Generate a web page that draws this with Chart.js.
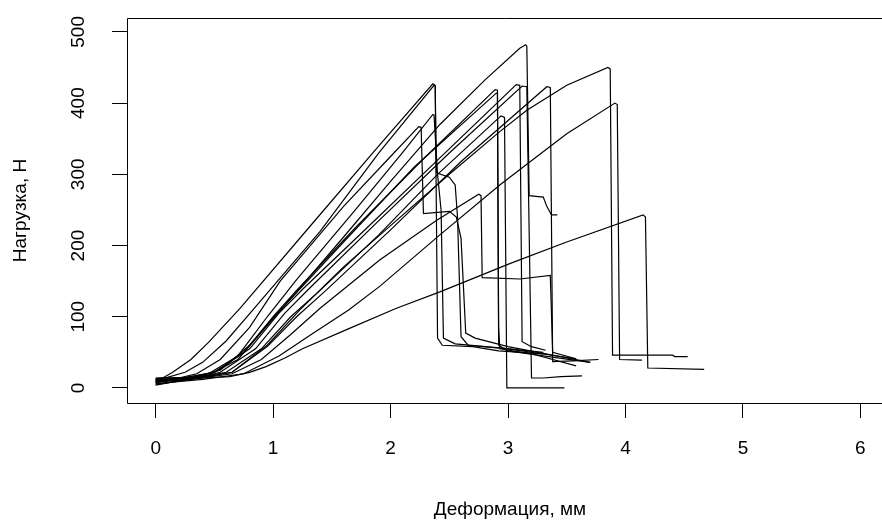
<!DOCTYPE html>
<html>
<head>
<meta charset="utf-8">
<script src="https://cdn.jsdelivr.net/npm/chart.js@4.4.0/dist/chart.umd.min.js"></script>
<style>
    html, body { margin: 0; padding: 0; background: #fff; overflow: hidden; }
    #wrap { width: 882px; height: 524px; }
</style>
</head>
<body>
<div id="wrap"><canvas id="loadChart" width="882" height="524"></canvas></div>
<script>
// Tick labels
const xTicks = [0, 1, 2, 3, 4, 5, 6];
const yTicks = [0, 100, 200, 300, 400, 500];
const xTitle = 'Деформация, мм';
const yTitle = 'Нагрузка, Н';

// Specimens: [deformation mm, load N]
const s01 = [[0,10],[0.06,14],[0.145,22],[0.3,40],[0.45,64],[0.72,112],[1.34,232],[1.9,340],[2.36,427],[2.38,425],[2.40,70],[2.44,60],[2.70,58],[2.92,52],[3.30,48]];
const s02 = [[0,13],[0.1,15],[0.25,22],[0.4,36],[0.6,66],[0.85,114],[1.4,220],[1.9,330],[2.37,425],[2.38,424],[2.39,302],[2.50,296],[2.55,285],[2.57,240],[2.60,72],[2.66,60],[3.0,55],[3.58,41]];
const s03 = [[0,7],[0.15,12],[0.35,20],[0.55,40],[0.8,85],[1.06,150],[1.6,255],[2.0,325],[2.24,367],[2.26,366],[2.28,245],[2.50,248],[2.56,240],[2.60,210],[2.64,77],[2.72,70],[3.0,58],[3.70,36]];
const s04 = [[0,4],[0.2,10],[0.45,20],[0.7,45],[0.95,100],[1.2,152],[1.7,250],[2.1,330],[2.36,384],[2.37,383],[2.40,300],[2.43,250],[2.45,70],[2.55,62],[2.95,56],[3.30,50]];
const s05 = [[0,8],[0.35,13],[0.65,20],[0.9,40],[1.15,75],[1.4,112],[1.91,180],[2.39,235],[2.75,272],[2.77,270],[2.78,155],[3.1,153],[3.36,158],[3.38,50],[3.58,41]];
const s06 = [[0,11],[0.25,14],[0.5,22],[0.75,50],[1.0,100],[1.2,137],[1.7,225],[2.3,325],[2.89,419],[2.91,418],[2.92,85],[2.93,55],[3.2,48],[3.58,31]];
const s07 = [[0,14],[0.25,15],[0.5,22],[0.8,55],[1.05,105],[1.26,140],[1.8,225],[2.4,320],[3.07,426],[3.10,425],[3.12,65],[3.20,58],[3.32,53]];
const s08 = [[0,5],[0.3,12],[0.55,22],[0.85,55],[1.1,105],[1.31,140],[1.9,235],[2.5,330],[3.12,424],[3.16,423],[3.20,14],[3.3,14],[3.45,16],[3.63,17]];
const s09 = [[0,9],[0.3,13],[0.6,22],[0.9,55],[1.15,100],[1.40,137],[1.9,215],[2.4,300],[2.94,382],[2.97,380],[2.99,0],[3.25,0],[3.48,0]];
const s10 = [[0,12],[0.35,14],[0.65,22],[0.95,58],[1.2,100],[1.45,137],[2.0,222],[2.6,318],[3.33,423],[3.36,422],[3.38,37],[3.55,38],[3.77,40]];
const s11 = [[0,12],[0.3,14],[0.55,25],[0.8,60],[1.0,98],[1.2,135],[1.6,212],[2.0,290],[2.42,370],[2.8,432],[3.10,477],[3.15,482],[3.16,480],[3.18,270],[3.30,268],[3.33,255],[3.37,243],[3.42,243]];
const s12 = [[0,9],[0.35,13],[0.65,22],[0.95,60],[1.23,110],[1.6,170],[2.0,228],[2.5,300],[2.93,360],[3.16,390],[3.5,425],[3.85,450],[3.87,448],[3.89,46],[4.40,46],[4.42,44],[4.53,44]];
const s13 = [[0,6],[0.4,12],[0.75,20],[1.05,45],[1.35,78],[1.64,109],[1.91,143],[2.42,215],[2.93,285],[3.16,314],[3.5,357],[3.91,400],[3.93,398],[3.95,40],[4.14,39]];
const s14 = [[0,10],[0.3,13],[0.63,16],[0.8,22],[0.94,30],[1.1,42],[1.25,55],[1.64,83],[2.05,112],[2.42,135],[3.02,175],[3.5,205],[4.15,243],[4.17,240],[4.19,28],[4.67,26]];
const s15 = [[0,8],[0.2,12],[0.45,18],[0.7,40],[0.95,88],[1.15,125],[1.6,205],[2.2,310],[2.90,414],[2.91,413],[2.92,60],[3.0,52],[3.3,45],[3.70,36]];

const specimens = [s01, s02, s03, s04, s05, s06, s07, s08, s09, s10, s11, s12, s13, s14, s15];

// Draws the R-like box and the axis texts
const frameLabels = {
    id: 'frameLabels',
    afterDraw(chart) {
        const ctx = chart.ctx;
        const area = chart.chartArea;
        const xs = chart.scales.x;
        const ys = chart.scales.y;
        ctx.save();
        ctx.strokeStyle = '#000';
        ctx.lineWidth = 1;
        ctx.beginPath();
        ctx.moveTo(chart.width + 20, area.top + 0.5);
        ctx.lineTo(area.left + 0.5, area.top + 0.5);
        ctx.lineTo(area.left + 0.5, area.bottom + 0.5);
        ctx.lineTo(chart.width + 20, area.bottom + 0.5);
        ctx.stroke();

        ctx.fillStyle = '#000';
        ctx.font = '19px "Liberation Sans", Arial, sans-serif';
        ctx.textAlign = 'center';
        ctx.textBaseline = 'middle';
        xTicks.forEach(v => ctx.fillText(String(v), xs.getPixelForValue(v), 449));
        yTicks.forEach(v => {
            ctx.save();
            ctx.translate(79, ys.getPixelForValue(v));
            ctx.rotate(-Math.PI / 2);
            ctx.fillText(String(v), 0, 0);
            ctx.restore();
        });
        ctx.fillText(xTitle, 510, 510);
        ctx.save();
        ctx.translate(21, (area.top + area.bottom) / 2);
        ctx.rotate(-Math.PI / 2);
        ctx.fillText(yTitle, 0, 0);
        ctx.restore();
        ctx.restore();
    }
};

const chartData = {
    datasets: specimens.map(pts => ({
        data: pts.map(p => ({ x: p[0], y: p[1] })),
        borderColor: '#000',
        borderWidth: 1.2,
        pointRadius: 0,
        showLine: true,
        fill: false,
        tension: 0
    }))
};

const chartConfig = {
    type: 'scatter',
    data: chartData,
    options: {
        responsive: false,
        animation: false,
        layout: { padding: { left: 0, top: 18, right: 0, bottom: 0 } },
        plugins: {
            legend: { display: false },
            tooltip: { enabled: false }
        },
        scales: {
            x: {
                type: 'linear',
                min: -0.244,
                max: 6.184,
                afterBuildTicks: scale => { scale.ticks = xTicks.map(v => ({ value: v })); },
                afterFit: scale => { scale.height = 121; },
                grid: { drawOnChartArea: false, drawTicks: true, tickLength: 15, color: '#000', tickColor: '#000' },
                border: { display: false },
                ticks: { display: false }
            },
            y: {
                type: 'linear',
                min: -21.1,
                max: 519.5,
                afterBuildTicks: scale => { scale.ticks = yTicks.map(v => ({ value: v })); },
                afterFit: scale => { scale.width = 127; },
                grid: { drawOnChartArea: false, drawTicks: true, tickLength: 15, color: '#000', tickColor: '#000' },
                border: { display: false },
                ticks: { display: false }
            }
        }
    },
    plugins: [frameLabels]
};

const ctx = document.getElementById('loadChart').getContext('2d');
const mainChart = new Chart(ctx, chartConfig);
</script>
</body>
</html>
